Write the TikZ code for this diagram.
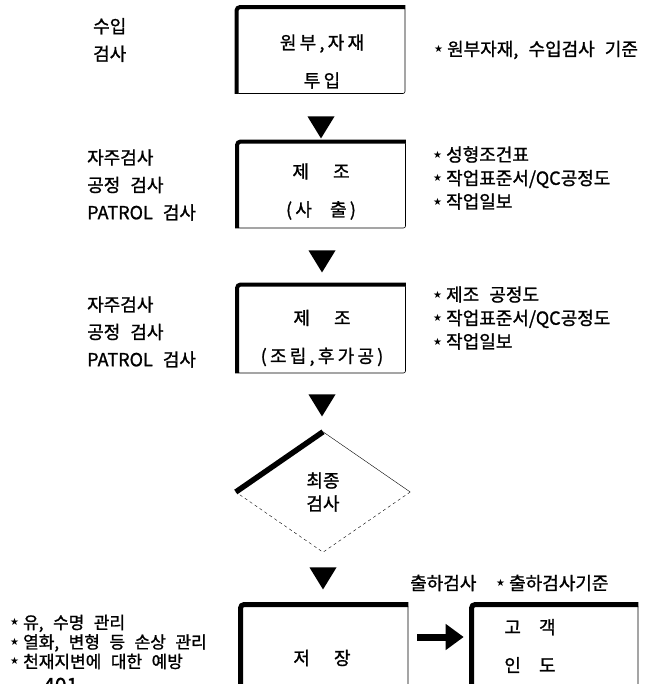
\documentclass[tikz,border=0pt]{standalone}
\usepackage{fontspec}
\setmainfont{Noto Sans CJK KR}[WordSpace=2.5,FakeBold=1.2]
\newfontfamily\capfont{Noto Sans CJK KR}[LetterSpace=18,WordSpace=2.5,FakeBold=1.2]
\newfontfamily\symfont{DejaVu Sans}
\usetikzlibrary{shapes.geometric,arrows.meta}
\newcommand{\mk}{\raisebox{3pt}{\symfont\fontsize{10}{10}\selectfont ★}\hspace{4pt}}
\tikzstyle{box}=[draw, semithick, rounded corners=2pt, minimum width=168pt, minimum height=86pt]
\tikzstyle{heavy}=[line width=4pt, rounded corners=3pt]
\tikzstyle{txt}=[font=\fontsize{18}{27.5}\selectfont, align=left, inner sep=0pt]
\tikzstyle{note}=[font=\fontsize{18}{23.5}\selectfont, align=left, inner sep=0pt]
\tikzstyle{lownote}=[font=\fontsize{17}{19.5}\selectfont, align=left, inner sep=0pt]
\tikzstyle{boxtext}=[font=\capfont\fontsize{18}{38}\selectfont, align=center, inner sep=0pt]
\tikzstyle{down}=[isosceles triangle, shape border rotate=270, isosceles triangle stretches, fill, inner sep=0pt, minimum width=27pt, minimum height=22pt]
\tikzstyle{fat}=[-{Triangle[length=18pt,width=25pt]}, line width=7pt, shorten <=9pt, shorten >=8pt]

\begin{document}
\begin{tikzpicture}[x=1pt, y=-1pt]
    \useasboundingbox (0,0) rectangle (660,684);

    \node[txt, anchor=west] (in1) at (93, 40) {수입\\검사};
    \node[box] (b1) at (321, 50.5) {};
    \draw[heavy] (b1.south west) -- (b1.north west) -- (b1.north east);
    \node[boxtext] (t1) at (322, 61.5) {원부,자재\\투입};
    \node[note, anchor=west] (n1) at (434, 50) {\mk 원부자재, 수입검사 기준};
    \node[down] (a1) at (321, 124) {};

    \node[txt, anchor=west] (in2) at (87, 185) {자주검사\\공정 검사\\PATROL 검사};
    \node[box] (b2) at (321.5, 185) {};
    \draw[heavy] (b2.south west) -- (b2.north west) -- (b2.north east);
    \node[boxtext] (t2) at (321, 191.5) {제\hspace{24pt}조\\(사 출)};
    \node[note, anchor=west] (n2) at (433, 178) {\mk 성형조건표\\\mk 작업표준서/QC공정도\\\mk 작업일보};
    \node[down] (a2) at (322, 258) {};

    \node[txt, anchor=west] (in3) at (87, 332) {자주검사\\공정 검사\\PATROL 검사};
    \node[box, minimum height=88pt] (b3) at (321.5, 329) {};
    \draw[heavy] (b3.south west) -- (b3.north west) -- (b3.north east);
    \node[boxtext] (t3) at (322, 338) {제\hspace{24pt}조\\(조립,후가공)};
    \node[note, anchor=west] (n3) at (433, 318) {\mk 제조 공정도\\\mk 작업표준서/QC공정도\\\mk 작업일보};
    \node[down] (a3) at (322, 402) {};

    \node[diamond, minimum width=174pt, minimum height=120pt, inner sep=0pt,
          font=\fontsize{18}{23}\selectfont, align=center] (d) at (323, 492) {최종\\검사};
    \draw[line width=5.5pt] (d.west) -- (d.north);
    \draw[thin] (d.north) -- (d.east);
    \draw[thin, dashed] (d.east) -- (d.south) -- (d.west);
    \node[down] (a4) at (323, 575) {};

    \node[lownote, anchor=west] (n4) at (10, 642) {\mk 유, 수명 관리\\\mk 열화, 변형 등 손상 관리\\\mk 천재지변에 대한 예방};
    \node[inner sep=0pt, anchor=base west, font=\fontsize{21}{21}\selectfont] (pg) at (43, 693) {401};

    \node[box, minimum width=167pt, minimum height=130pt] (b4) at (324.5, 670) {};
    \draw[heavy, line width=5pt] (b4.south west) -- (b4.north west) -- (b4.north east);
    \node[boxtext] (t4) at (322, 658) {저\hspace{24pt}장};

    \node[note, anchor=west] (q5) at (410, 583) {출하검사};
    \node[note, anchor=west] (n5) at (496, 583) {\mk 출하검사기준};
    \node[box, minimum width=166pt, minimum height=130pt] (b5) at (555, 670) {};
    \draw[heavy, line width=5pt] (b5.south west) -- (b5.north west) -- (b5.north east);
    \node[boxtext] (t5) at (530, 646) {고 객\\인 도};

    \draw[fat] (b4.east |- 0,637) -- (b5.west |- 0,637);
\end{tikzpicture}
\end{document}
